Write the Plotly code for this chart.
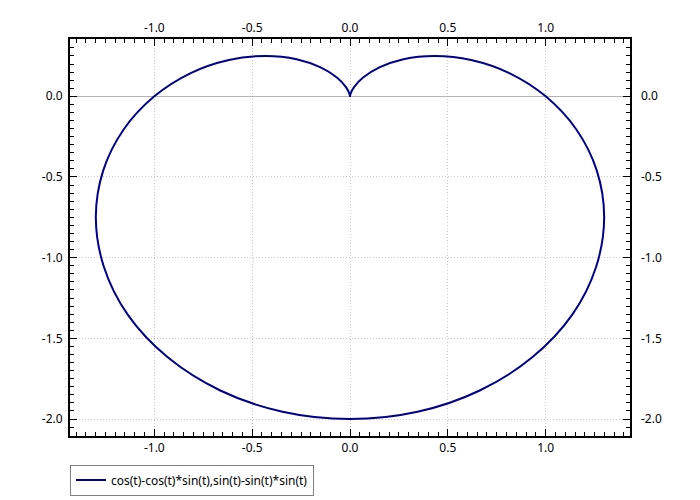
import plotly.graph_objects as go

# points (right half: cusp -> right -> bottom)
x_right = [0.0, 0.0003, 0.0026, 0.0206, 0.067, 0.150, 0.273, 0.433, 0.619, 0.814,
           1.0, 1.156, 1.261, 1.299, 1.258, 1.136, 0.933, 0.663, 0.345, 0.0]
y_right = [0.0, 0.0038, 0.0149, 0.0567, 0.116, 0.179, 0.230, 0.250, 0.225, 0.144,
           0.0, -0.204, -0.459, -0.750, -1.056, -1.353, -1.616, -1.823, -1.955, -2.0]
# left half (bottom -> left -> cusp)
x_left = [-0.345, -0.663, -0.933, -1.136, -1.258, -1.299, -1.261, -1.156, -1.0,
          -0.814, -0.619, -0.433, -0.273, -0.150, -0.067, -0.0206, -0.0026, -0.0003, 0.0]
y_left = [-1.955, -1.823, -1.616, -1.353, -1.056, -0.750, -0.459, -0.204, 0.0,
          0.144, 0.225, 0.250, 0.230, 0.179, 0.116, 0.0567, 0.0149, 0.0038, 0.0]

x_vals = x_right + x_left
y_vals = y_right + y_left
label = "cos(t)-cos(t)*sin(t),sin(t)-sin(t)*sin(t)"

x_range = [-1.431, 1.431]
y_range = [-2.105, 0.355]
x_ticks = [-1.0, -0.5, 0.0, 0.5, 1.0]
x_labels = ["-1.0", "-0.5", "0.0", "0.5", "1.0"]
y_ticks = [0.0, -0.5, -1.0, -1.5, -2.0]
y_labels = ["0.0", "-0.5", "-1.0", "-1.5", "-2.0"]

tick_font = dict(family="Noto Sans", size=12, color="black")

fig = go.Figure()
fig.add_trace(go.Scatter(x=x_vals, y=y_vals, mode="lines", name=label,
                         line=dict(color="#00008b", width=2, shape="spline")))
# invisible twin so the top/right axes get drawn
fig.add_trace(go.Scatter(x=x_vals, y=y_vals, mode="lines", xaxis="x2", yaxis="y2",
                         line=dict(color="rgba(0,0,0,0)"), showlegend=False,
                         hoverinfo="skip"))

common = dict(showline=True, linecolor="black", linewidth=2, ticks="inside",
              ticklen=7, tickcolor="black", tickfont=tick_font, automargin=False,
              mirror="ticks", showgrid=True, gridcolor="#c8c8c8",
              griddash="1px,2px", gridwidth=1,
              minor=dict(ticks="inside", ticklen=4, tickcolor="black", dtick=0.05,
                         showgrid=False))
twin = dict(showgrid=False, zeroline=False, showline=False, ticks="",
            tickfont=tick_font, automargin=False)

# page body has an 8px margin, so the margins are nudged to land the frame at 70..630
fig.update_layout(
    width=700, height=500,
    paper_bgcolor="white", plot_bgcolor="white",
    margin=dict(l=62, r=78, t=31, b=70),
    font=dict(family="Noto Sans", size=12, color="black"),
    xaxis=dict(range=x_range, tickvals=x_ticks, ticktext=x_labels, zeroline=False,
               **common),
    yaxis=dict(range=y_range, tickvals=y_ticks, ticktext=y_labels, zeroline=True,
               zerolinecolor="#b4b4b4", zerolinewidth=1, ticklabelstandoff=3,
               **common),
    xaxis2=dict(range=x_range, tickvals=x_ticks, ticktext=x_labels, overlaying="x",
                side="top", ticklabelstandoff=4, **twin),
    yaxis2=dict(range=y_range, tickvals=y_ticks, ticktext=y_labels, overlaying="y",
                side="right", ticklabelstandoff=10, **twin),
    legend=dict(x=0, y=-0.072, xanchor="left", yanchor="top", bgcolor="white",
                bordercolor="#808080", borderwidth=1, font=tick_font),
    showlegend=True,
)

fig.write_html("out.html")
